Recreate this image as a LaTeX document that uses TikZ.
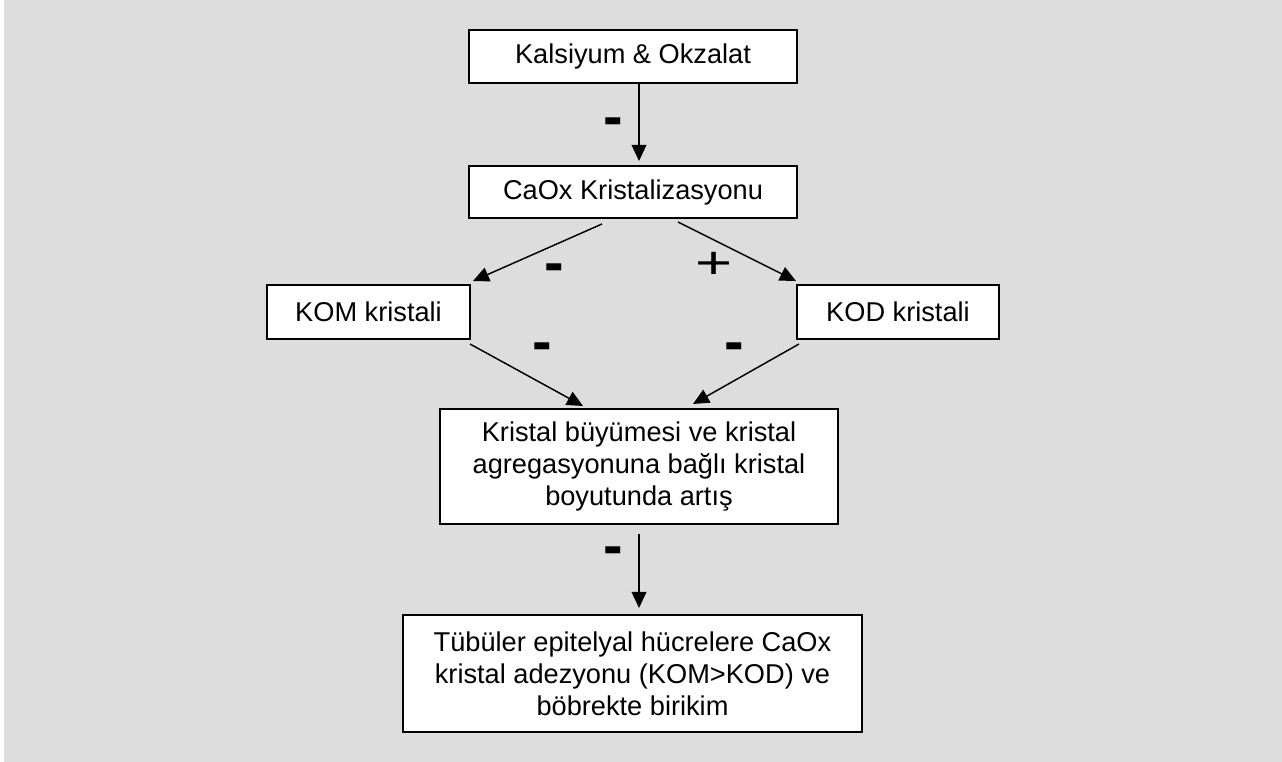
\documentclass[tikz,border=0pt]{standalone}
\usepackage{fontspec}
\setmainfont{Liberation Sans}
\definecolor{panel}{RGB}{221, 221, 221}
\usetikzlibrary{arrows.meta, calc}

\begin{document}
\begin{tikzpicture}[x=0.75pt, y=-0.75pt,
    box/.style={draw, line width=1.5pt, fill=white, inner sep=0pt, align=center,
        font=\fontsize{20.4}{24}\selectfont},
    flow/.style={-{Triangle[length=12pt, width=11pt]}, line width=1.1pt},
    minus/.style={font=\fontsize{44}{44}\selectfont\bfseries, inner sep=0pt},
    plus/.style={font=\fontsize{34}{34}\selectfont, inner sep=0pt}]

                % Background
                \fill[white] (0,0) rectangle (1282,762);
                \fill[panel] (4,0) rectangle (1282,762);
                \useasboundingbox (0,0) rectangle (1282,762);

                % Boxes
                \node[box, minimum width=246pt, minimum height=39.75pt] (kalsiyum) at (633,56.5) {Kalsiyum \& Okzalat};
                \node[box, minimum width=246pt, minimum height=39pt] (caox) at (633,192) {CaOx Kristalizasyonu};
                \node[box, minimum width=152.25pt, minimum height=40.5pt] (kom) at (368.5,312) {KOM kristali};
                \node[box, minimum width=151.5pt, minimum height=40.5pt] (kod) at (898,312) {KOD kristali};
                \node[box, minimum width=298.5pt, minimum height=86.25pt] (buyume) at (639,466.5)
                    {Kristal büyümesi ve kristal\\agregasyonuna bağlı kristal\\boyutunda artış};
                \node[box, minimum width=344.25pt, minimum height=87.75pt] (birikim) at (632.5,673.5)
                    {Tübüler epitelyal hücrelere CaOx\\kristal adezyonu (KOM>KOD) ve\\böbrekte birikim};

                % Arrows
                \draw[flow] ([shift={(6,0)}]kalsiyum.south) -- ([shift={(6,-4)}]caox.north);
                \draw[flow] ([shift={(-31,5)}]caox.south) -- ([shift={(2,-3)}]kom.north east);
                \draw[flow] ([shift={(45,3)}]caox.south) -- ([shift={(0,-3)}]kod.north west);
                \draw[flow] ([shift={(-1,4)}]kom.south east) -- ([shift={(-56,-2)}]buyume.north);
                \draw[flow] ([shift={(3,4)}]kod.south west) -- ([shift={(54,-4)}]buyume.north);
                \draw[flow] ([shift={(0,9)}]buyume.south) -- ([shift={(6.5,-6)}]birikim.north);

                % Signs
                \node[minus] (m1) at (613,127) {-};
                \node[minus] (m2) at (554,273) {-};
                \node[plus] (p1) at (714,265) {\scalebox{1.4}[1]{+}};
                \node[minus] (m3) at (542,352) {-};
                \node[minus] (m4) at (734,352) {-};
                \node[minus] (m5) at (613,556) {-};
            \end{tikzpicture}
\end{document}
